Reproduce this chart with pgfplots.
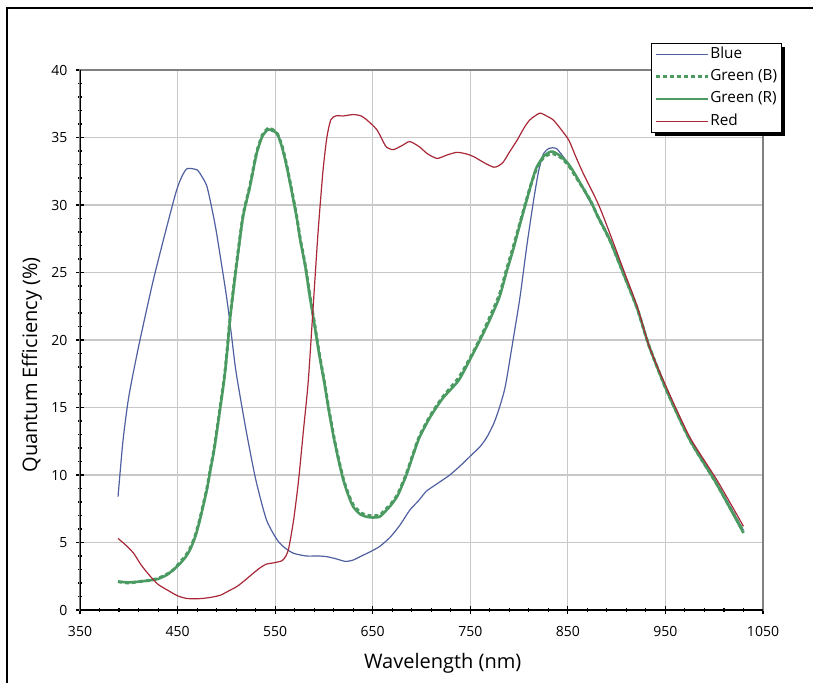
\documentclass[border=0pt]{standalone}
\usepackage{fontspec}
\setmainfont{Open Sans}
\usepackage{pgfplots}
\pgfplotsset{compat=1.18}
\definecolor{qeblue}{HTML}{4F5FA0}
\definecolor{qegreen}{HTML}{4A9A62}
\definecolor{qered}{HTML}{A82838}
\definecolor{gridgray}{HTML}{C8C8C8}

\begin{document}
\begin{tikzpicture}[x=0.75pt,y=0.75pt]
\useasboundingbox (0,0) rectangle (813,683);
\draw[line width=0.9pt] (7,0) -- (7,675) -- (813,675);
\begin{axis}[
  at={(60pt,54.75pt)}, anchor=south west,
  scale only axis, width=512.25pt, height=405pt,
  xmin=350, xmax=1050, ymin=0, ymax=40,
  xtick={350,450,...,1050}, ytick={0,5,...,40},
  minor x tick num=4, minor y tick num=4,
  tick pos=left, tick align=center,
  major tick length=6pt, minor tick length=3pt,
  tick style={black, line width=0.8pt},
  grid=major, major grid style={gridgray, line width=0.8pt},
  axis line style={draw=black!50, line width=0.8pt},
  ticklabel style={font=\fontsize{10.5}{12}\selectfont},
  xticklabel style={yshift=-6pt},
  yticklabel style={xshift=-3pt},
  /pgf/number format/assume math mode=true,
  /pgf/number format/1000 sep={},
  xlabel={Wavelength (nm)}, ylabel={Quantum Efficiency (\%)},
  label style={font=\fontsize{15}{18}\selectfont},
  xlabel style={at={(axis description cs:0.531,0)}, anchor=center, yshift=-40pt},
  ylabel style={at={(axis description cs:0,0.454)}, anchor=center, yshift=36pt},
  legend image code/.code={\draw[#1] (0pt,0pt) -- (39pt,0pt);},
  legend style={name=leg, at={(axis description cs:0.836,1.05)}, anchor=north west,
    draw=black, line width=0.6pt, fill=white,
    font=\fontsize{11.5}{13}\selectfont,
    inner xsep=2pt, inner ysep=1.5pt, row sep=2.6pt,
    nodes={inner sep=1pt, text height=9pt, text depth=3pt},
    cells={anchor=west}},
]
% Blue
\addplot[qeblue, line width=0.9pt, smooth, tension=0.4] coordinates {
(389,8.4) (394,12.5) (400,15.8) (410,19.5) (425,24.4) (439,28.4) (449,31.1)
(455,32.2) (460,32.7) (470,32.6) (475,32.1) (480,31.4) (485,29.8) (490,27.9)
(500,23.3) (505,20.5) (510,17.6) (520,13.4) (530,9.7) (541,6.7) (552,5.2)
(560,4.6) (569,4.2) (582,4.0) (595,4.0) (603,3.95) (612,3.8) (622,3.6)
(630,3.7) (637,3.95) (647,4.3) (657,4.7) (668,5.4) (678,6.3) (688,7.4)
(697,8.1) (705,8.8) (717,9.4) (729,10.0) (740,10.7) (750,11.4) (760,12.1)
(767,12.8) (774,13.8) (779,14.8) (784,16.0) (787,17.0) (795,20.5) (801,23.2)
(808,27.0) (815,30.4) (820,32.5) (825,33.8) (831,34.2) (838,34.2) (845,33.6)
(851,33.0) (860,32.0) (870,30.6) (881,29.2) (893,27.5) (907,25.0) (921,22.4)
(933,19.6) (951,16.4) (975,12.7) (1002,9.5) (1030,5.9)
};
\addlegendentry{Blue}
% Green (B)
\addplot[qegreen, line width=2.2pt, dash pattern=on 3pt off 2.25pt, smooth, tension=0.4] coordinates {
(389,2.1) (400,2.0) (410,2.1) (422,2.2) (430,2.35) (439,2.65) (446,3.0)
(452,3.5) (458,4.0) (463,4.6) (468,5.5) (473,6.8) (480,9.0) (484,10.6)
(488,12.2) (494,15.2) (498,17.3) (501,19.4) (504,21.8) (510,25.4) (517,29.2)
(524,31.4) (531,33.9) (537,35.2) (543,35.7) (547,35.6) (552,35.3) (557,34.4)
(562,32.9) (567,31.1) (572,29.2) (576,27.4) (581,25.5) (586,23.1) (590,21.4)
(595,19.1) (600,17.1) (605,14.9) (610,12.9) (615,11.2) (620,9.7) (625,8.6)
(630,7.8) (637,7.25) (644,7.0) (650,7.0) (657,7.0) (661,7.3) (668,7.8)
(675,8.5) (680,9.3) (685,10.2) (692,11.7) (698,12.9) (709,14.4) (722,15.8)
(738,17.2) (750,18.7) (760,20.1) (770,21.7) (780,23.4) (787,25.2) (794,26.9)
(801,28.7) (808,30.5) (813,31.7) (818,32.7) (825,33.5) (832,33.8) (835,33.8)
(843,33.5) (851,32.9) (858,32.1) (866,31.2) (874,30.2) (881,29.1) (893,27.4)
(907,24.9) (921,22.35) (933,19.6) (951,16.3) (975,12.6) (1002,9.4) (1030,5.8)
};
\addlegendentry{Green (B)}
% Green (R)
\addplot[qegreen, line width=1.9pt, smooth, tension=0.4] coordinates {
(389,2.1) (400,2.05) (410,2.1) (422,2.2) (430,2.3) (439,2.6) (446,3.0)
(452,3.4) (458,3.9) (463,4.5) (468,5.4) (473,6.7) (480,8.9) (484,10.5)
(488,12.1) (494,15.1) (498,17.2) (501,19.3) (504,21.7) (510,25.3) (517,29.1)
(524,31.3) (531,33.8) (537,35.1) (543,35.6) (547,35.5) (552,35.3) (557,34.3)
(562,32.8) (567,31.0) (572,29.1) (576,27.3) (581,25.4) (586,23.0) (590,21.3)
(595,19.0) (600,17.0) (605,14.8) (610,12.8) (615,11.1) (620,9.6) (625,8.5)
(630,7.65) (637,7.1) (644,6.9) (650,6.85) (657,6.9) (661,7.16) (668,7.7)
(675,8.4) (680,9.2) (685,10.1) (692,11.6) (698,12.8) (709,14.3) (722,15.7)
(738,17.0) (750,18.6) (760,20.0) (770,21.5) (780,23.2) (787,25.0) (794,26.7)
(801,28.6) (808,30.4) (813,31.7) (818,32.8) (825,33.6) (832,33.95) (835,33.95)
(843,33.6) (851,33.0) (858,32.2) (866,31.2) (874,30.2) (881,29.1) (893,27.4)
(907,24.9) (921,22.35) (933,19.6) (951,16.3) (975,12.6) (1002,9.4) (1030,5.7)
};
\addlegendentry{Green (R)}
% Red
\addplot[qered, line width=0.9pt, smooth, tension=0.4] coordinates {
(389,5.3) (397,4.8) (405,4.2) (413,3.3) (422,2.5) (430,1.9) (439,1.5)
(450,1.05) (459,0.86) (468,0.83) (476,0.86) (485,0.95) (494,1.1) (502,1.4)
(511,1.75) (519,2.2) (528,2.75) (535,3.15) (541,3.4) (549,3.5) (557,3.65)
(561,4.0) (564,4.6) (569,6.7) (574,9.6) (579,13.3) (584,17.0) (589,22.5)
(594,28.0) (599,32.5) (603,35.0) (607,36.3) (612,36.6) (620,36.6) (630,36.7)
(638,36.6) (644,36.3) (654,35.6) (660,34.8) (664,34.3) (671,34.1) (680,34.4)
(688,34.7) (698,34.3) (706,33.8) (716,33.45) (726,33.7) (736,33.9) (745,33.8)
(753,33.6) (765,33.1) (774,32.8) (779,32.9) (784,33.2) (790,33.9) (798,34.8)
(805,35.7) (811,36.3) (821,36.8) (828,36.6) (835,36.3) (843,35.6) (851,34.8)
(858,33.6) (866,32.3) (881,30.1) (893,27.9) (907,25.2) (921,22.5) (934,19.4)
(951,16.5) (975,12.8) (1003,9.6) (1030,6.2)
};
\addlegendentry{Red}
\draw[black, line width=1pt] (rel axis cs:0,1) -- (rel axis cs:0,0) -- (rel axis cs:1,0);
\end{axis}
% legend shadow
\fill[black] ([xshift=3pt]leg.south west) rectangle ([xshift=2.5pt,yshift=-2.5pt]leg.south east);
\fill[black] ([yshift=-3pt]leg.north east) rectangle ([xshift=2.5pt,yshift=-2.5pt]leg.south east);
\end{tikzpicture}
\end{document}
